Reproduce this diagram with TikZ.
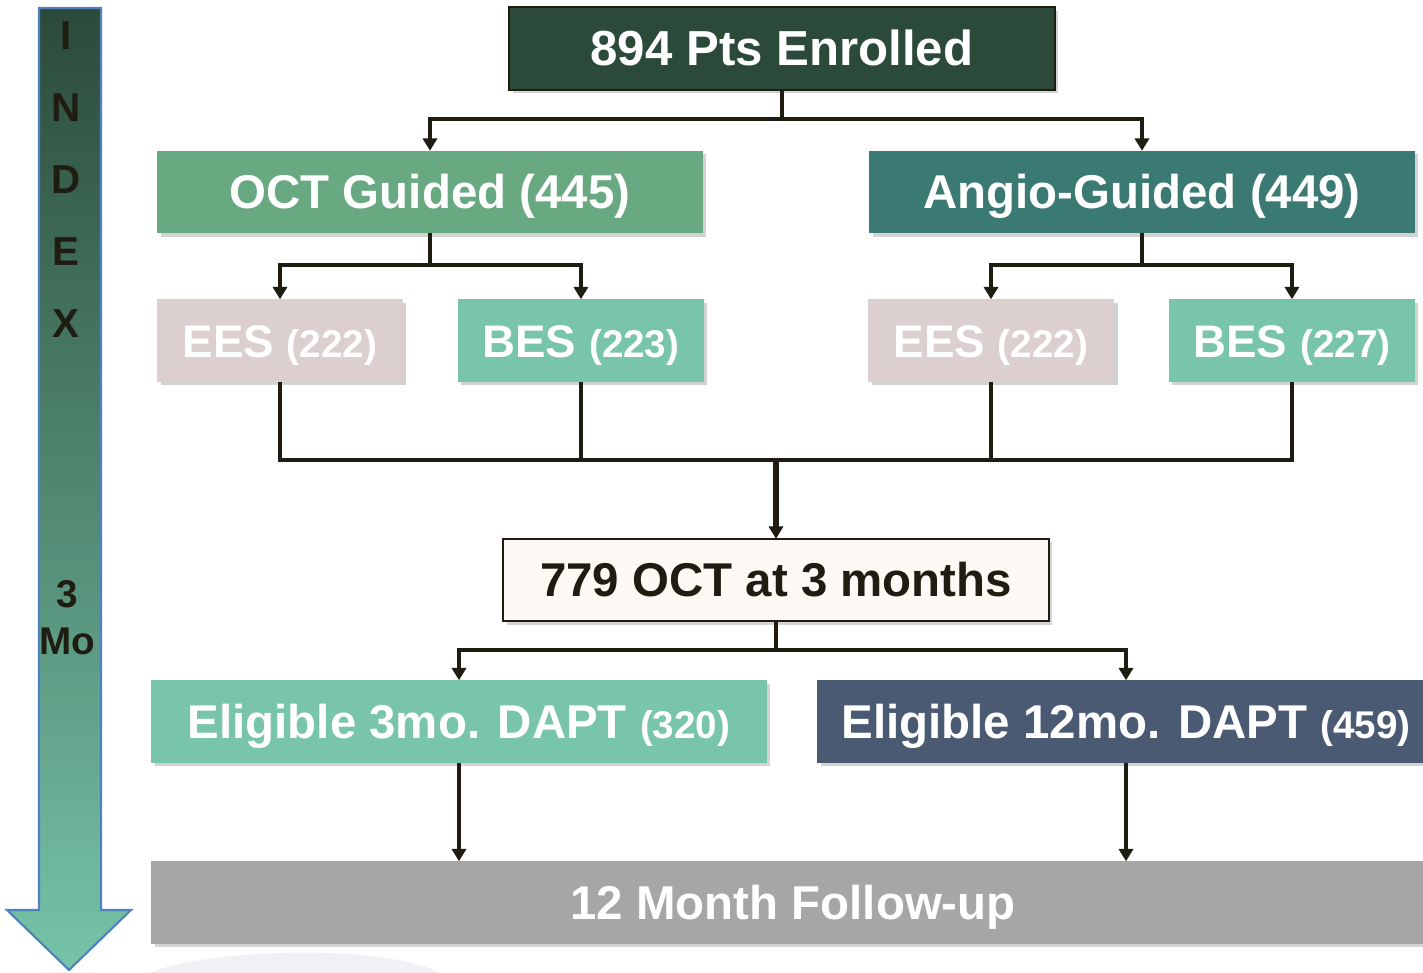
\documentclass[tikz,border=0pt]{standalone}
\usepackage{fontspec}
\setmainfont{Liberation Sans}
\usetikzlibrary{arrows.meta,positioning,shadows}

\definecolor{enrgreen}{HTML}{2B4A3A}
\definecolor{octgreen}{HTML}{69A982}
\definecolor{anggreen}{HTML}{3B7A72}
\definecolor{eespink}{HTML}{DCCFCF}
\definecolor{besgreen}{HTML}{79C5AA}
\definecolor{cream}{HTML}{FDFAF5}
\definecolor{slateblue}{HTML}{4A5A73}
\definecolor{fugray}{HTML}{A6A6A6}
\definecolor{ink}{HTML}{1F1C12}
\definecolor{arrowedge}{HTML}{4F81BD}
\definecolor{arrowtop}{HTML}{2B4A3B}
\definecolor{arrowbot}{HTML}{76C4A8}

\newcommand{\smallnum}[1]{{\fontsize{22}{26}\selectfont #1}}

\begin{document}
\begin{tikzpicture}[x=0.02cm,y=-0.02cm,>={Triangle[width=8pt,length=7pt]},
                    line width=2.2pt,draw=ink]
  \tikzset{box/.style={minimum width=10.92cm,minimum height=1.65cm,inner sep=0pt,outer sep=0pt,
                       text height=22pt,text depth=2.7pt,
                       text=white,font=\fontsize{27}{32}\selectfont\bfseries,
                       drop shadow={shadow xshift=2pt,shadow yshift=-2pt,opacity=0.35}},
           small/.style={box,minimum width=4.92cm,font=\fontsize{26}{31}\selectfont\bfseries},
           link/.style={ink,line width=2.2pt},
           letter/.style={text=ink,font=\fontsize{23}{27}\selectfont\bfseries}}
  \clip (0,0) rectangle (1423,973);

  % faint background swoosh
  \fill[blue!20!gray!10] (150,973) .. controls (200,950) and (380,942) .. (440,973) -- cycle;

  % time arrow on the left
  \shade[top color=arrowtop,bottom color=arrowbot,draw=arrowedge,line width=1.2pt]
    (39,8) -- (101,8) -- (101,910) -- (131,910) -- (69,970) -- (7,910) -- (39,910) -- cycle;
  \node[letter] (i1) at (66,36)  {I};
  \node[letter] (i2) at (66,108) {N};
  \node[letter] (i3) at (66,180) {D};
  \node[letter] (i4) at (66,252) {E};
  \node[letter] (i5) at (66,324) {X};
  \node[letter,font=\fontsize{22}{26}\selectfont\bfseries] (m1) at (67,594) {3};
  \node[letter,font=\fontsize{22}{26}\selectfont\bfseries] (m2) at (67,641) {Mo};

  \node[box,fill=enrgreen,draw=ink,line width=1pt,font=\fontsize{28}{33}\selectfont\bfseries]
        (enr) at (782,48.5) {894 Pts Enrolled};
  \node[box,fill=octgreen]  (oct) at (430,192)  {OCT Guided (445)};
  \node[box,fill=anggreen]  (ang) at (1142,192) {Angio-Guided (449)};

  \node[small,fill=eespink]  (ees1) at (280,340.5)         {EES \smallnum{(222)}};
  \node[small,fill=besgreen] (bes1) [right=1.1cm of ees1] {BES \smallnum{(223)}};
  \node[small,fill=eespink]  (ees2) at (991,340.5)         {EES \smallnum{(222)}};
  \node[small,fill=besgreen] (bes2) [right=1.1cm of ees2] {BES \smallnum{(227)}};

  \node[box,fill=cream,draw=ink,line width=1pt,text=ink] (oct3) at (776,580) {779 OCT at 3 months};
  \node[box,fill=besgreen,minimum width=12.32cm]  (e3)  at (459,721.5)
        {Eligible 3mo. DAPT \smallnum{(320)}};
  \node[box,fill=slateblue,minimum width=12.36cm] (e12) at (1126,721.5)
        {Eligible 12mo. DAPT \smallnum{(459)}};
  \node[box,fill=fugray,minimum width=25.68cm]    (fu)  at (793,902.5) {12 Month Follow-up};

  \coordinate (j1) at (782,119);
  \coordinate (j2) at (430,265);
  \coordinate (j3) at (1142,265);
  \coordinate (j4) at (776,460);
  \coordinate (j5) at (776,650);

  \draw[link] (enr.south) -- (j1);
  \draw[link,->] (j1) -| (oct.north);
  \draw[link,->] (j1) -| (ang.north);

  \draw[link] (oct.south) -- (j2);
  \draw[link,->] (j2) -| (ees1.north);
  \draw[link,->] (j2) -| (bes1.north);
  \draw[link] (ang.south) -- (j3);
  \draw[link,->] (j3) -| (ees2.north);
  \draw[link,->] (j3) -| (bes2.north);

  \draw[link] (ees1.south) |- (j4) -| (bes2.south);
  \draw[link] (bes1.south) -- (bes1.south |- j4);
  \draw[link] (ees2.south) -- (ees2.south |- j4);
  \draw[link,line width=3pt,->] (j4) -- (oct3.north);

  \draw[link] (oct3.south) -- (j5);
  \draw[link,->] (j5) -| (e3.north);
  \draw[link,->] (j5) -| (e12.north);

  \draw[link,->] (e3.south) -- (e3.south |- fu.north);
  \draw[link,->] (e12.south) -- (e12.south |- fu.north);
\end{tikzpicture}
\end{document}
